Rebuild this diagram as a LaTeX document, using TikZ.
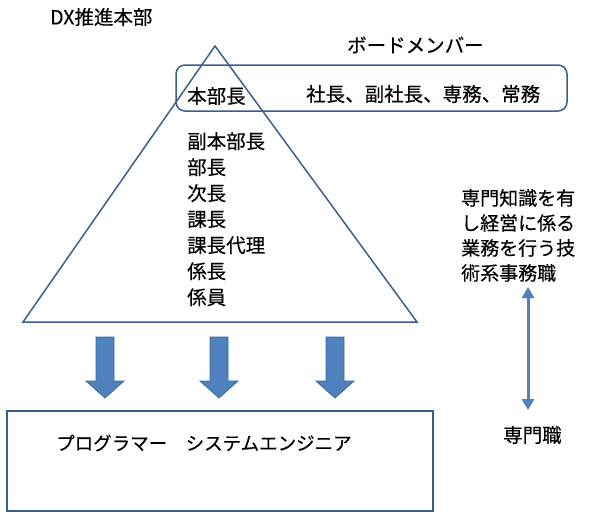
\documentclass[tikz,border=0pt]{standalone}
\usepackage{fontspec}
\setmainfont[FakeBold=0.4]{Noto Sans CJK JP}
\usetikzlibrary{arrows.meta}
\definecolor{edgeblue}{RGB}{58,95,139}
\definecolor{fillblue}{RGB}{79,129,189}
\definecolor{arrowedge}{RGB}{60,104,158}
\tikzset{
  lbl/.style={anchor=west,inner sep=0pt,font=\fontsize{19.5}{26}\selectfont,align=left},
  outline/.style={draw=edgeblue,line width=1.5pt},
  blockarrow/.style={fill=fillblue,draw=arrowedge,line width=0.8pt,line join=miter},
  dbl/.style={draw=fillblue,line width=3pt,{Triangle[width=12pt,length=11pt]}-{Triangle[width=12pt,length=11pt]}}
}
\newcommand{\blockdown}[1]{%
  \draw[blockarrow] (#1-9,337) -- (#1+9,337) -- (#1+9,381) -- (#1+19,381) -- (#1,398) -- (#1-19,381) -- (#1-9,381) -- cycle;}
\begin{document}
\begin{tikzpicture}[x=1pt,y=-1pt]
\useasboundingbox (0,0) rectangle (589,517);
% triangle
\draw[outline,line join=miter] (215,46) coordinate (apex) -- (417,322) coordinate (br) -- (23,322) coordinate (bl) -- cycle;
% board member box
\draw[outline,rounded corners=9pt] (176,65) rectangle (567,111);
% bottom box
\draw[outline] (7,411) rectangle (433,511);
% texts
\node[lbl] (dx) at (50,17) {DX推進本部};
\node[lbl] (board) at (347,45) {ボードメンバー};
\node[lbl] (hb) at (187,96) {本部長};
\node[lbl] (pres) at (306,94) {社長、副社長、専務、常務};
\node[lbl,anchor=north west] (ranks) at (187,132) {副本部長\\部長\\次長\\課長\\課長代理\\係長\\係員};
\node[lbl,anchor=north west,font=\fontsize{19}{25}\selectfont] (spec) at (461,189) {専門知識を有\\し経営に係る\\業務を行う技\\術系事務職};
\node[lbl] (senmon) at (503,435) {専門職};
\node[lbl,font=\fontsize{18.5}{24}\selectfont] (prog) at (56,443) {プログラマー　システムエンジニア};
% block arrows
\blockdown{105}
\blockdown{219}
\blockdown{335}
% double arrow
\coordinate (dtop) at (528,287);
\coordinate (dbot) at (528,410);
\draw[dbl] (dtop) -- (dbot);
\end{tikzpicture}
\end{document}
